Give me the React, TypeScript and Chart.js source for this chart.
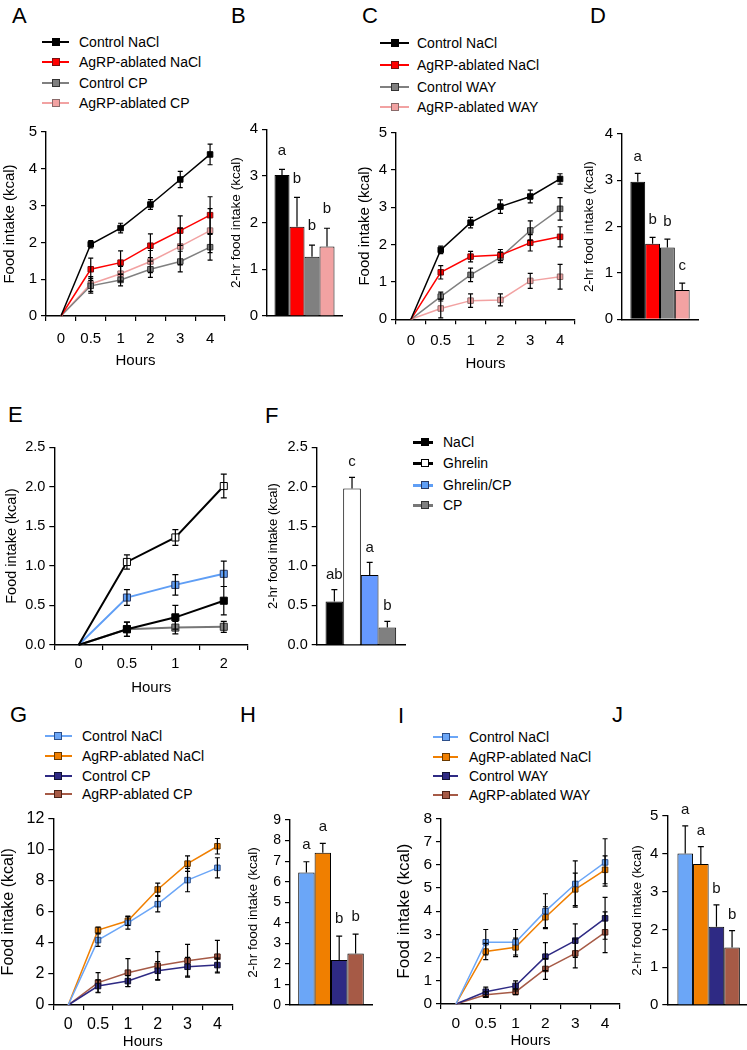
import React, { useEffect, useRef } from 'react';
import { Chart, registerables } from 'chart.js';

Chart.register(...registerables);

const FONT = "'Liberation Sans', Arial, Helvetica, sans-serif";
Chart.defaults.font.family = FONT;
Chart.defaults.color = '#000';

// ---------------- DATA ----------------
const HOURS_4H = ['0', '0.5', '1', '2', '3', '4'];
const HOURS_2H = ['0', '0.5', '1', '2'];

// Panel A (CP)
const A_LABELS = ['Control NaCl', 'AgRP-ablated NaCl', 'Control CP', 'AgRP-ablated CP'];
const A_CTRL_NACL = [0, 1.95, 2.39, 3.03, 3.71, 4.39];
const A_CTRL_NACL_ERR = [0, 0.1, 0.13, 0.13, 0.22, 0.28];
const A_AGRP_NACL = [0, 1.27, 1.45, 1.91, 2.32, 2.74];
const A_AGRP_NACL_ERR = [0, 0.3, 0.32, 0.32, 0.4, 0.5];
const A_CTRL_CP = [0, 0.82, 0.98, 1.27, 1.48, 1.87];
const A_CTRL_CP_ERR = [0, 0.2, 0.16, 0.22, 0.28, 0.35];
const A_AGRP_CP = [0, 0.87, 1.15, 1.48, 1.89, 2.32];
const A_AGRP_CP_ERR = [0, 0.2, 0.2, 0.3, 0.5, 0.6];

// Panel B
const B_VALUES = [3.02, 1.91, 1.27, 1.49];
const B_ERR = [0.12, 0.63, 0.25, 0.39];
const B_LETTERS = ['a', 'b', 'b', 'b'];

// Panel C (WAY)
const C_LABELS = ['Control NaCl', 'AgRP-ablated NaCl', 'Control WAY', 'AgRP-ablated WAY'];
const C_CTRL_NACL = [0, 1.86, 2.59, 3.02, 3.29, 3.76];
const C_CTRL_NACL_ERR = [0, 0.1, 0.14, 0.18, 0.17, 0.14];
const C_AGRP_NACL = [0, 1.26, 1.68, 1.72, 2.05, 2.21];
const C_AGRP_NACL_ERR = [0, 0.18, 0.14, 0.15, 0.22, 0.27];
const C_CTRL_WAY = [0, 0.61, 1.19, 1.66, 2.38, 2.96];
const C_CTRL_WAY_ERR = [0, 0.12, 0.18, 0.14, 0.26, 0.3];
const C_AGRP_WAY = [0, 0.29, 0.5, 0.52, 1.03, 1.14];
const C_AGRP_WAY_ERR = [0, 0.25, 0.18, 0.16, 0.2, 0.33];

// Panel D
const D_VALUES = [2.97, 1.63, 1.55, 0.63];
const D_ERR = [0.18, 0.14, 0.18, 0.15];
const D_LETTERS = ['a', 'b', 'b', 'c'];

// Panel E (ghrelin)
const E_LABELS = ['NaCl', 'Ghrelin', 'Ghrelin/CP', 'CP'];
const E_NACL = [0, 0.2, 0.35, 0.56];
const E_NACL_ERR = [0, 0.09, 0.15, 0.18];
const E_GHRELIN = [0, 1.05, 1.36, 2.01];
const E_GHRELIN_ERR = [0, 0.09, 0.1, 0.15];
const E_GHRELIN_CP = [0, 0.6, 0.76, 0.9];
const E_GHRELIN_CP_ERR = [0, 0.1, 0.13, 0.16];
const E_CP = [0, 0.2, 0.22, 0.23];
const E_CP_ERR = [0, 0.09, 0.08, 0.07];

// Panel F
const F_VALUES = [0.55, 1.98, 0.885, 0.22];
const F_ERR = [0.15, 0.14, 0.16, 0.08];
const F_LETTERS = ['ab', 'c', 'a', 'b'];

// Panel G (CP, second cohort)
const G_LABELS = ['Control NaCl', 'AgRP-ablated NaCl', 'Control CP', 'AgRP-ablated CP'];
const G_CTRL_NACL = [0, 4.18, 5.29, 6.49, 8.04, 8.83];
const G_CTRL_NACL_ERR = [0, 0.4, 0.4, 0.5, 0.75, 0.65];
const G_AGRP_NACL = [0, 4.82, 5.42, 7.44, 9.1, 10.22];
const G_AGRP_NACL_ERR = [0, 0.2, 0.3, 0.4, 0.5, 0.5];
const G_CTRL_CP = [0, 1.22, 1.54, 2.2, 2.46, 2.57];
const G_CTRL_CP_ERR = [0, 0.4, 0.35, 0.6, 0.6, 0.45];
const G_AGRP_CP = [0, 1.44, 2.08, 2.53, 2.85, 3.11];
const G_AGRP_CP_ERR = [0, 0.65, 0.9, 0.9, 1.05, 1.05];

// Panel H
const H_VALUES = [6.45, 7.41, 2.19, 2.51];
const H_ERR = [0.52, 0.45, 1.16, 0.94];
const H_LETTERS = ['a', 'a', 'b', 'b'];

// Panel I (WAY, second cohort)
const I_LABELS = ['Control NaCl', 'AgRP-ablated NaCl', 'Control WAY', 'AgRP-ablated WAY'];
const I_CTRL_NACL = [0, 2.66, 2.66, 4.0, 5.17, 6.1];
const I_CTRL_NACL_ERR = [0, 0.55, 0.55, 0.75, 1.0, 1.02];
const I_AGRP_NACL = [0, 2.26, 2.44, 3.74, 4.94, 5.78];
const I_AGRP_NACL_ERR = [0, 0.35, 0.4, 0.45, 0.7, 0.6];
const I_CTRL_WAY = [0, 0.53, 0.78, 2.04, 2.73, 3.69];
const I_CTRL_WAY_ERR = [0, 0.2, 0.22, 0.6, 0.72, 0.9];
const I_AGRP_WAY = [0, 0.4, 0.52, 1.51, 2.18, 3.09];
const I_AGRP_WAY_ERR = [0, 0.12, 0.12, 0.45, 0.62, 0.88];

// Panel J
const J_VALUES = [4.01, 3.73, 2.07, 1.52];
const J_ERR = [0.73, 0.46, 0.58, 0.45];
const J_LETTERS = ['a', 'a', 'b', 'b'];

const TITLE_FOOD = 'Food intake (kcal)';
const TITLE_2HR = '2-hr food intake (kcal)';
const TITLE_HOURS = 'Hours';

// ---------------- STYLES ----------------
const BLACK = '#000000';
const RED = '#ff0000';
const GRAY = '#808080';
const PINK = '#f2a2a2';
const BLUE = '#5f9ef5';
const BLUE_BAR = '#6699ff';
const LBLUE = '#6ba6f7';
const ORANGE = '#f07f00';
const NAVY = '#2e2a84';
const BROWN = '#a65a46';

type Series = { label: string; data: number[]; err: number[]; line: string; fill: string; edge: string };

const A_SERIES: Series[] = [
  { label: A_LABELS[0], data: A_CTRL_NACL, err: A_CTRL_NACL_ERR, line: BLACK, fill: BLACK, edge: BLACK },
  { label: A_LABELS[1], data: A_AGRP_NACL, err: A_AGRP_NACL_ERR, line: RED, fill: RED, edge: '#7a1010' },
  { label: A_LABELS[2], data: A_CTRL_CP, err: A_CTRL_CP_ERR, line: GRAY, fill: GRAY, edge: '#333333' },
  { label: A_LABELS[3], data: A_AGRP_CP, err: A_AGRP_CP_ERR, line: PINK, fill: PINK, edge: '#8a6a6a' },
];
const C_SERIES: Series[] = [
  { label: C_LABELS[0], data: C_CTRL_NACL, err: C_CTRL_NACL_ERR, line: BLACK, fill: BLACK, edge: BLACK },
  { label: C_LABELS[1], data: C_AGRP_NACL, err: C_AGRP_NACL_ERR, line: RED, fill: RED, edge: '#7a1010' },
  { label: C_LABELS[2], data: C_CTRL_WAY, err: C_CTRL_WAY_ERR, line: GRAY, fill: GRAY, edge: '#333333' },
  { label: C_LABELS[3], data: C_AGRP_WAY, err: C_AGRP_WAY_ERR, line: PINK, fill: PINK, edge: '#8a6a6a' },
];
const E_SERIES: Series[] = [
  { label: E_LABELS[0], data: E_NACL, err: E_NACL_ERR, line: BLACK, fill: BLACK, edge: BLACK },
  { label: E_LABELS[1], data: E_GHRELIN, err: E_GHRELIN_ERR, line: BLACK, fill: '#ffffff', edge: BLACK },
  { label: E_LABELS[2], data: E_GHRELIN_CP, err: E_GHRELIN_CP_ERR, line: BLUE, fill: BLUE, edge: '#2a3a66' },
  { label: E_LABELS[3], data: E_CP, err: E_CP_ERR, line: '#777777', fill: GRAY, edge: '#333333' },
];
const G_SERIES: Series[] = [
  { label: G_LABELS[0], data: G_CTRL_NACL, err: G_CTRL_NACL_ERR, line: LBLUE, fill: LBLUE, edge: '#2d4f8a' },
  { label: G_LABELS[1], data: G_AGRP_NACL, err: G_AGRP_NACL_ERR, line: ORANGE, fill: ORANGE, edge: '#6a3a00' },
  { label: G_LABELS[2], data: G_CTRL_CP, err: G_CTRL_CP_ERR, line: NAVY, fill: NAVY, edge: '#111133' },
  { label: G_LABELS[3], data: G_AGRP_CP, err: G_AGRP_CP_ERR, line: BROWN, fill: BROWN, edge: '#4a2218' },
];
const I_SERIES: Series[] = [
  { label: I_LABELS[0], data: I_CTRL_NACL, err: I_CTRL_NACL_ERR, line: LBLUE, fill: LBLUE, edge: '#2d4f8a' },
  { label: I_LABELS[1], data: I_AGRP_NACL, err: I_AGRP_NACL_ERR, line: ORANGE, fill: ORANGE, edge: '#6a3a00' },
  { label: I_LABELS[2], data: I_CTRL_WAY, err: I_CTRL_WAY_ERR, line: NAVY, fill: NAVY, edge: '#111133' },
  { label: I_LABELS[3], data: I_AGRP_WAY, err: I_AGRP_WAY_ERR, line: BROWN, fill: BROWN, edge: '#4a2218' },
];

// ---------------- PLUGINS ----------------
const errorBars = {
  id: 'errorBars',
  afterDatasetsDraw(chart: any, _args: any, opts: any) {
    const ctx = chart.ctx;
    const ys = chart.scales.y;
    const isBar = chart.config.type === 'bar';
    const cap = opts.cap ?? 2.5;
    chart.data.datasets.forEach((ds: any, i: number) => {
      if (!ds.errors) return;
      const meta = chart.getDatasetMeta(i);
      meta.data.forEach((el: any, j: number) => {
        const e = ds.errors[j];
        if (!e) return;
        const v = ds.data[j];
        const x = el.x;
        const top = ys.getPixelForValue(v + e);
        const bot = ys.getPixelForValue(isBar ? v : v - e);
        ctx.save();
        ctx.strokeStyle = opts.color ?? '#000';
        ctx.lineWidth = opts.width ?? 1.2;
        ctx.beginPath();
        ctx.moveTo(x, top);
        ctx.lineTo(x, bot);
        ctx.moveTo(x - cap, top);
        ctx.lineTo(x + cap, top);
        if (!isBar) {
          ctx.moveTo(x - cap, bot);
          ctx.lineTo(x + cap, bot);
        }
        ctx.stroke();
        ctx.restore();
      });
    });
  },
};

const barLetters = {
  id: 'barLetters',
  afterDatasetsDraw(chart: any, _args: any, opts: any) {
    if (chart.config.type !== 'bar') return;
    const ctx = chart.ctx;
    const ys = chart.scales.y;
    chart.data.datasets.forEach((ds: any, i: number) => {
      if (!ds.letter) return;
      const el = chart.getDatasetMeta(i).data[0];
      const top = ys.getPixelForValue(ds.data[0] + (ds.errors ? ds.errors[0] : 0));
      ctx.save();
      ctx.fillStyle = '#111';
      ctx.font = `${opts.size ?? 15}px ${FONT}`;
      ctx.textAlign = 'center';
      ctx.textBaseline = 'middle';
      ctx.fillText(ds.letter, el.x, top - (opts.offset ?? 17));
      ctx.restore();
    });
  },
};

// ---------------- LAYOUT HELPERS ----------------
type Geo = {
  x0: number; x1: number; yTop: number; yBot: number;
  titleX: number; titleSize: number; hoursY?: number; hoursSize?: number;
};

function computeLayout(g: Geo) {
  const lh = g.titleSize * 1.2;
  const l = Math.floor(g.titleX - lh / 2);
  const titlePad = g.titleX - lh / 2 - l;
  const t = Math.floor(g.yTop - 13);
  const r = Math.ceil(g.x1 + 9);
  let b: number;
  let hoursPad = 0;
  if (g.hoursY !== undefined) {
    const hl = (g.hoursSize ?? 15) * 1.2;
    const bb = g.hoursY + hl / 2;
    b = Math.ceil(bb);
    hoursPad = b - bb;
  } else {
    b = Math.ceil(g.yBot + 14);
  }
  return {
    rect: { l, t, w: r - l, h: b - t },
    yw: g.x0 - l,
    xh: b - g.yBot,
    padTop: g.yTop - t,
    padRight: r - g.x1,
    titlePad,
    hoursPad,
  };
}

function yAxis(L: any, g: Geo, max: number, step: number, title: string, tickSize: number, decimals: number) {
  return {
    type: 'linear',
    min: 0,
    max,
    ticks: {
      stepSize: step,
      font: { size: tickSize },
      color: '#000',
      padding: 4,
      callback: (v: any) => Number(v).toFixed(decimals),
    },
    grid: { display: true, drawOnChartArea: false, drawTicks: true, tickLength: 5, color: '#000', lineWidth: 1.2 },
    border: { display: true, color: '#000', width: 1.4 },
    title: { display: true, text: title, font: { size: g.titleSize }, color: '#000', padding: { top: L.titlePad, bottom: 0 } },
    afterFit: (s: any) => { s.width = L.yw; },
  };
}

function lineChart(g: Geo, labels: string[], series: Series[], opt: {
  max: number; step: number; tickSize: number; tickPad: number; pointR: number; lineW: number; decimals: number; cap: number;
}) {
  const L = computeLayout(g);
  const config = {
    type: 'line',
    data: {
      labels,
      datasets: series.map((s) => ({
        label: s.label,
        data: s.data,
        errors: s.err,
        borderColor: s.line,
        borderWidth: opt.lineW,
        backgroundColor: s.fill,
        pointBackgroundColor: s.fill,
        pointBorderColor: s.edge,
        pointBorderWidth: 1,
        pointStyle: 'rect',
        pointRadius: (c: any) => (c.dataIndex === 0 ? 0 : opt.pointR),
        tension: 0,
        fill: false,
        clip: false,
      })),
    },
    options: {
      animation: false,
      responsive: false,
      events: [],
      layout: { padding: { top: L.padTop, right: L.padRight, left: 0, bottom: 0 } },
      plugins: {
        legend: { display: false },
        tooltip: { enabled: false },
        errorBars: { cap: opt.cap, width: 1.2 },
      },
      scales: {
        x: {
          type: 'category',
          offset: true,
          grid: { display: true, offset: true, drawOnChartArea: false, drawTicks: true, tickLength: 5, color: '#000', lineWidth: 1.2 },
          border: { display: true, color: '#000', width: 1.4 },
          ticks: { font: { size: opt.tickSize }, color: '#000', padding: opt.tickPad, autoSkip: false, maxRotation: 0 },
          title: { display: true, text: TITLE_HOURS, font: { size: g.hoursSize ?? 15 }, color: '#000', padding: { top: 0, bottom: L.hoursPad } },
          afterFit: (s: any) => { s.height = L.xh; },
        },
        y: yAxis(L, g, opt.max, opt.step, TITLE_FOOD, opt.tickSize, opt.decimals),
      },
    },
    plugins: [errorBars],
  };
  return { L, config };
}

function barChart(g: Geo, groups: string[], values: number[], errs: number[], letters: string[], colors: string[], opt: {
  max: number; step: number; tickSize: number; decimals: number; catPct: number; letterOffset: number; cap: number;
}) {
  const L = computeLayout(g);
  const config = {
    type: 'bar',
    data: {
      labels: [''],
      datasets: groups.map((name, i) => ({
        label: name,
        data: [values[i]],
        errors: [errs[i]],
        letter: letters[i],
        backgroundColor: colors[i],
        borderColor: '#000',
        borderWidth: 1,
        categoryPercentage: opt.catPct,
        barPercentage: 1,
      })),
    },
    options: {
      animation: false,
      responsive: false,
      events: [],
      layout: { padding: { top: L.padTop, right: L.padRight, left: 0, bottom: 0 } },
      plugins: {
        legend: { display: false },
        tooltip: { enabled: false },
        errorBars: { cap: opt.cap, width: 1.2 },
        barLetters: { size: 15, offset: opt.letterOffset },
      },
      scales: {
        x: {
          type: 'category',
          offset: true,
          grid: { display: false },
          ticks: { display: false },
          border: { display: true, color: '#000', width: 1.4 },
          afterFit: (s: any) => { s.height = L.xh; },
        },
        y: yAxis(L, g, opt.max, opt.step, TITLE_2HR, opt.tickSize, opt.decimals),
      },
    },
    plugins: [errorBars, barLetters],
  };
  return { L, config };
}

// ---------------- COMPONENTS ----------------
function ChartCanvas({ spec }: { spec: { L: any; config: any } }) {
  const ref = useRef<HTMLCanvasElement>(null);
  useEffect(() => {
    const chart = new Chart(ref.current as HTMLCanvasElement, spec.config as any);
    return () => chart.destroy();
  }, []);
  const r = spec.L.rect;
  return (
    <canvas
      ref={ref}
      width={r.w}
      height={r.h}
      style={{ position: 'absolute', left: r.l, top: r.t, width: r.w, height: r.h }}
    />
  );
}

function HtmlLegend({ series, lineX0, lineX1, markX, textX, rows, mark, lineH }: {
  series: Series[]; lineX0: number; lineX1: number; markX: number; textX: number; rows: number[]; mark: number; lineH: number;
}) {
  return (
    <>
      {series.map((s, i) => (
        <React.Fragment key={i}>
          <div style={{ position: 'absolute', left: lineX0, top: rows[i] - lineH / 2, width: lineX1 - lineX0, height: lineH, background: s.line }} />
          <div style={{ position: 'absolute', left: markX - mark / 2, top: rows[i] - mark / 2, width: mark, height: mark, background: s.fill, border: `1px solid ${s.edge}`, boxSizing: 'border-box' }} />
          <div style={{ position: 'absolute', left: textX, top: rows[i] - 9, height: 18, lineHeight: '18px', fontSize: 14, fontFamily: FONT, whiteSpace: 'nowrap', color: '#000' }}>{s.label}</div>
        </React.Fragment>
      ))}
    </>
  );
}

function PanelLetter({ text, x, y }: { text: string; x: number; y: number }) {
  return (
    <div style={{ position: 'absolute', left: x, top: y - 3, fontSize: 22, lineHeight: '22px', fontFamily: FONT, color: '#000' }}>{text}</div>
  );
}

// ---------------- PANELS ----------------
const geoA: Geo = { x0: 46, x1: 225, yTop: 132, yBot: 316, titleX: 10, titleSize: 15, hoursY: 361 };
const geoB: Geo = { x0: 267, x1: 342, yTop: 129.3, yBot: 316, titleX: 236, titleSize: 13.5 };
const geoC: Geo = { x0: 396, x1: 575, yTop: 132.7, yBot: 319.3, titleX: 365, titleSize: 15, hoursY: 364 };
const geoD: Geo = { x0: 622, x1: 698, yTop: 134, yBot: 319.3, titleX: 589, titleSize: 13.5 };
const geoE: Geo = { x0: 54.3, x1: 248, yTop: 447.3, yBot: 645, titleX: 12, titleSize: 14.5, hoursY: 688 };
const geoF: Geo = { x0: 316.7, x1: 405, yTop: 447.3, yBot: 645, titleX: 273, titleSize: 13 };
const geoG: Geo = { x0: 53.3, x1: 232.3, yTop: 818.3, yBot: 1005, titleX: 8.5, titleSize: 16, hoursY: 1041.7 };
const geoH: Geo = { x0: 290, x1: 372, yTop: 820, yBot: 1005, titleX: 253, titleSize: 13.5 };
const geoI: Geo = { x0: 441, x1: 620, yTop: 818.3, yBot: 1004, titleX: 404, titleSize: 17, hoursY: 1041 };
const geoJ: Geo = { x0: 667.3, x1: 750, yTop: 816, yBot: 1005, titleX: 637, titleSize: 13.5 };

const specA = lineChart(geoA, HOURS_4H, A_SERIES, { max: 5, step: 1, tickSize: 15, tickPad: 9, pointR: 3.9, lineW: 1.5, decimals: 0, cap: 2.5 });
const specB = barChart(geoB, A_LABELS, B_VALUES, B_ERR, B_LETTERS, [BLACK, RED, GRAY, PINK], { max: 4, step: 1, tickSize: 15, decimals: 0, catPct: 0.8, letterOffset: 19, cap: 3 });
const specC = lineChart(geoC, HOURS_4H, C_SERIES, { max: 5, step: 1, tickSize: 15, tickPad: 8, pointR: 3.9, lineW: 1.5, decimals: 0, cap: 2.5 });
const specD = barChart(geoD, C_LABELS, D_VALUES, D_ERR, D_LETTERS, [BLACK, RED, GRAY, PINK], { max: 4, step: 1, tickSize: 15, decimals: 0, catPct: 0.78, letterOffset: 17, cap: 3 });
const specE = lineChart(geoE, HOURS_2H, E_SERIES, { max: 2.5, step: 0.5, tickSize: 14.5, tickPad: 5, pointR: 5, lineW: 2, decimals: 1, cap: 3 });
const specF = barChart(geoF, E_LABELS, F_VALUES, F_ERR, F_LETTERS, [BLACK, '#ffffff', BLUE_BAR, GRAY], { max: 2.5, step: 0.5, tickSize: 14.5, decimals: 1, catPct: 0.8, letterOffset: 15, cap: 3 });
const specG = lineChart(geoG, HOURS_4H, G_SERIES, { max: 12, step: 2, tickSize: 16, tickPad: 4.5, pointR: 3.9, lineW: 1.5, decimals: 0, cap: 2.5 });
const specH = barChart(geoH, G_LABELS, H_VALUES, H_ERR, H_LETTERS, [LBLUE, ORANGE, NAVY, BROWN], { max: 9, step: 1, tickSize: 14, decimals: 0, catPct: 0.8, letterOffset: 17, cap: 3 });
const specI = lineChart(geoI, HOURS_4H, I_SERIES, { max: 8, step: 1, tickSize: 15.5, tickPad: 5.5, pointR: 3.9, lineW: 1.5, decimals: 0, cap: 2.5 });
const specJ = barChart(geoJ, I_LABELS, J_VALUES, J_ERR, J_LETTERS, [LBLUE, ORANGE, NAVY, BROWN], { max: 5, step: 1, tickSize: 15, decimals: 0, catPct: 0.755, letterOffset: 15.5, cap: 3 });

export default function App() {
  return (
    <div style={{ position: 'absolute', left: 0, top: 0, width: 747, height: 1050, overflow: 'hidden', background: '#fff' }}>
      <PanelLetter text="A" x={12} y={8} />
      <PanelLetter text="B" x={231} y={8} />
      <PanelLetter text="C" x={362} y={8} />
      <PanelLetter text="D" x={590} y={8} />
      <PanelLetter text="E" x={8} y={407} />
      <PanelLetter text="F" x={265} y={408} />
      <PanelLetter text="G" x={10} y={707} />
      <PanelLetter text="H" x={240} y={707} />
      <PanelLetter text="I" x={398} y={708} />
      <PanelLetter text="J" x={612} y={707} />

      <HtmlLegend series={A_SERIES} lineX0={42} lineX1={69} markX={56} textX={79} rows={[42, 62, 83, 103]} mark={7.5} lineH={2} />
      <HtmlLegend series={C_SERIES} lineX0={380} lineX1={409} markX={395} textX={417} rows={[43, 65, 87, 107]} mark={7.5} lineH={2} />
      <HtmlLegend series={E_SERIES} lineX0={413} lineX1={433} markX={425} textX={443} rows={[442, 463, 485, 505]} mark={8} lineH={3} />
      <HtmlLegend series={G_SERIES} lineX0={45} lineX1={72} markX={58} textX={82} rows={[736, 756, 776, 794]} mark={8} lineH={2} />
      <HtmlLegend series={I_SERIES} lineX0={433} lineX1={458} markX={446} textX={469} rows={[737, 757, 776, 795]} mark={8} lineH={2} />

      <ChartCanvas spec={specA} />
      <ChartCanvas spec={specB} />
      <ChartCanvas spec={specC} />
      <ChartCanvas spec={specD} />
      <ChartCanvas spec={specE} />
      <ChartCanvas spec={specF} />
      <ChartCanvas spec={specG} />
      <ChartCanvas spec={specH} />
      <ChartCanvas spec={specI} />
      <ChartCanvas spec={specJ} />
    </div>
  );
}
